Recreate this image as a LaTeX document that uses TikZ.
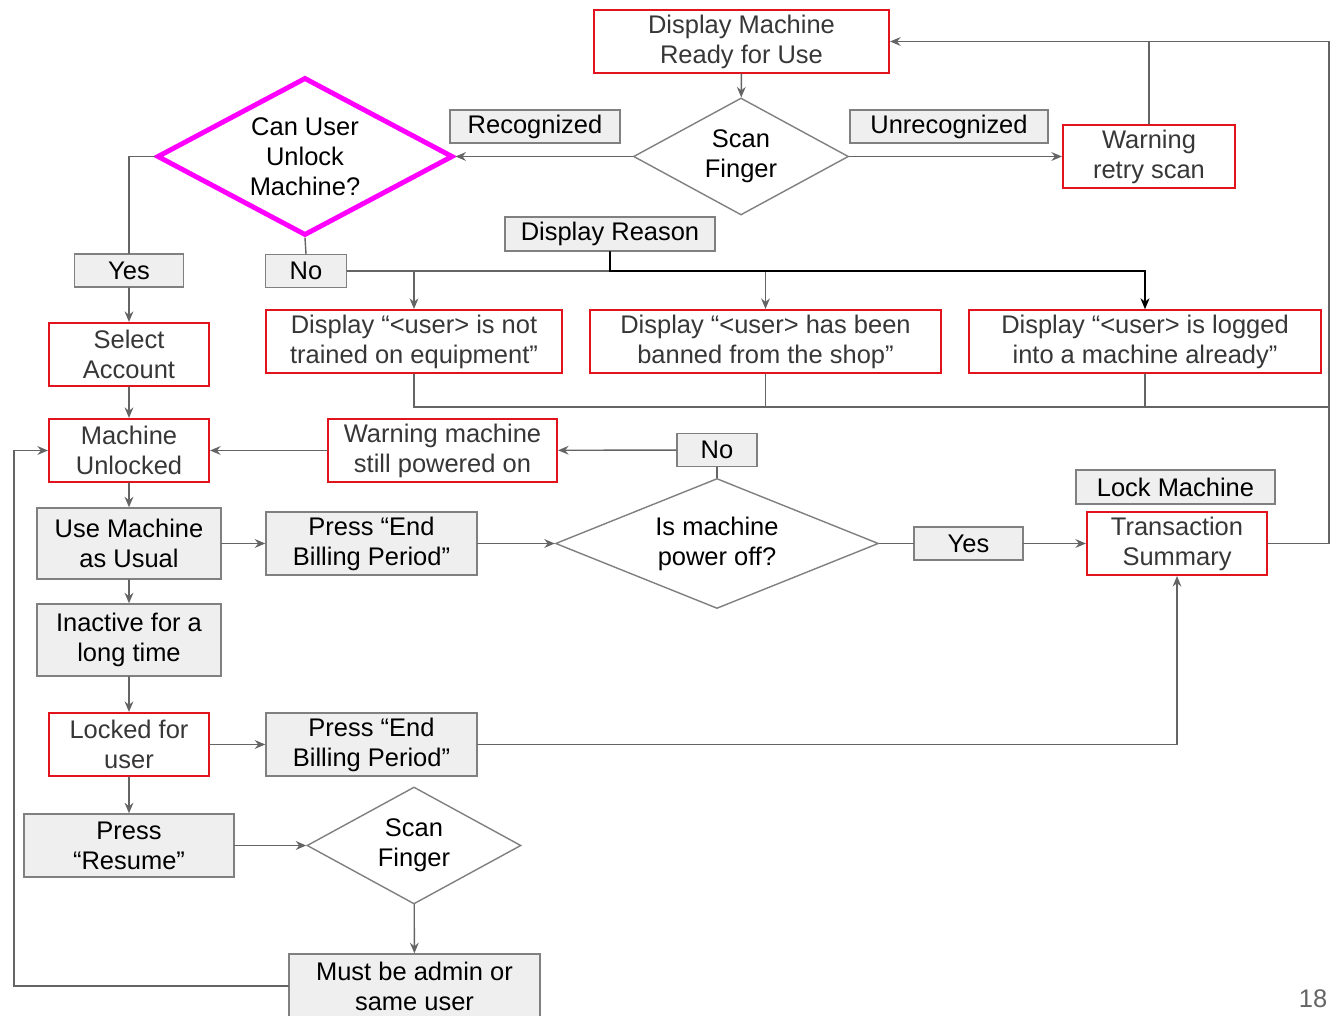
\documentclass[tikz,border=0pt]{standalone}
\usepackage{fontspec}
\setmainfont{Liberation Sans}
\usetikzlibrary{shapes.geometric,arrows.meta}
\begin{document}
\begin{tikzpicture}[x=0.02cm, y=-0.02cm, line cap=round,
  every node/.style={font=\fontsize{14.5}{17}\selectfont, align=center, inner sep=0pt},
  sz/.style 2 args={minimum width=#1*0.02cm, minimum height=#2*0.02cm},
  redbox/.style={draw=boxred, line width=1.2pt, fill=white, text=darktext},
  graybox/.style={draw=edgegray, line width=0.8pt, fill=fillgray, text=black},
  decide/.style={diamond, draw=edgegray, line width=0.8pt, fill=white, text=black},
  link/.style={draw=linegray, line width=0.8pt},
  arr/.style={link, -{Stealth[length=6pt, width=5pt, inset=2pt]}}]
  \definecolor{boxred}{RGB}{225,20,30}
  \definecolor{edgegray}{RGB}{128,128,128}
  \definecolor{fillgray}{RGB}{239,239,239}
  \definecolor{linegray}{RGB}{100,100,100}
  \definecolor{darktext}{RGB}{55,55,55}
  \definecolor{unlockpink}{RGB}{255,0,255}
  \useasboundingbox (0,0) rectangle (1330,1016);
  % top row
  \node[redbox, sz={295}{63}] (ready) at (741.5,41.5) {Display Machine\\Ready for Use};
  \node[decide, sz={215}{117}, aspect=1.84] (scanA) at (741,156.5) {Scan\\Finger};
  \node[graybox, sz={170}{33}] (recog) at (535,126.5) {Recognized};
  \node[graybox, sz={198}{33}] (unrecog) at (949,126.5) {Unrecognized};
  \node[redbox, sz={172}{63}] (retry) at (1149,156.5) {Warning\\retry scan};
  \node[decide, draw=unlockpink, line width=2.8pt, sz={296}{158}, aspect=1.87] (unlock) at (305,156.5) {Can User\\Unlock\\Machine?};
  \node[graybox, sz={109}{33}] (yesA) at (129,270.5) {Yes};
  \node[graybox, sz={81}{33}] (noA) at (306,271) {No};
  \node[graybox, sz={210}{34}] (reason) at (610,234) {Display Reason};
  % reasons
  \node[redbox, sz={160}{63}] (select) at (129,354.5) {Select\\Account};
  \node[redbox, sz={296}{63}] (untrained) at (414,341.5) {Display “<user> is not\\trained on equipment”};
  \node[redbox, sz={351}{63}] (banned) at (765.5,341.5) {Display “<user> has been\\banned from the shop”};
  \node[redbox, sz={352}{63}] (logged) at (1145,341.5) {Display “<user> is logged\\into a machine already”};
  % using the machine
  \node[redbox, sz={160}{63}] (unlocked) at (129,450.5) {Machine\\Unlocked};
  \node[redbox, sz={229}{63}] (stillon) at (442.5,450.5) {Warning machine\\still powered on};
  \node[graybox, sz={80}{33}] (noB) at (717,450) {No};
  \node[graybox, sz={184}{71}] (usual) at (129,543.5) {Use Machine\\as Usual};
  \node[graybox, sz={211}{63}] (endA) at (371.5,543.5) {Press “End\\Billing Period”};
  \node[decide, sz={323}{130}, aspect=2.48] (poweroff) at (717,543.5) {Is machine\\power off?};
  \node[graybox, sz={109}{33}] (yesB) at (968.5,543.5) {Yes};
  \node[graybox, sz={199}{34}] (lock) at (1175.5,487) {Lock Machine};
  \node[redbox, sz={180}{63}] (summary) at (1177,543.5) {Transaction\\Summary};
  % timeout
  \node[graybox, sz={184}{72}] (inactive) at (129,640) {Inactive for a\\long time};
  \node[redbox, sz={160}{63}] (lockeduser) at (129,744.5) {Locked for\\user};
  \node[graybox, sz={211}{63}] (endB) at (371.5,744.5) {Press “End\\Billing Period”};
  \node[graybox, sz={210}{63}] (resume) at (129,845.5) {Press\\“Resume”};
  \node[decide, sz={214}{117}, aspect=1.83] (scanB) at (414,845.5) {Scan\\Finger};
  \node[graybox, sz={251}{64}] (admin) at (414.5,986) {Must be admin or\\same user};
  \node[text=linegray] (page) at (1313,999) {18};
  \coordinate (rtop) at (1329,41.5);
  \coordinate (rbus) at (1329,407);
  \coordinate (lft) at (14,450.5);
  % connectors
  \draw[arr] (ready) -- (scanA);
  \draw[arr] (scanA.west) -- (unlock.east);
  \draw[arr] (scanA.east) -- (retry.west);
  \draw[link] (retry.north) -- (retry.north |- rtop);
  \draw[arr] (summary.east) -| (rtop) -- (ready.east);
  \draw[link] (unlock.west) -| (yesA.north);
  \draw[arr] (yesA) -- (select);
  \draw[link] (unlock.south) -- (noA.north);
  \draw[arr] (noA.east) -| (logged.north);
  \draw[arr] (untrained.north |- noA.east) -- (untrained.north);
  \draw[arr] (banned.north |- noA.east) -- (banned.north);
  \draw[arr, draw=black] (reason.south) |- (logged.north |- noA.east) -- (logged.north);
  \draw[link] (untrained.south) |- (rbus);
  \draw[link] (banned.south) -- (banned.south |- rbus);
  \draw[link] (logged.south) -- (logged.south |- rbus);
  \draw[arr] (select) -- (unlocked);
  \draw[arr] (stillon) -- (unlocked);
  \draw[arr] (noB) -- (stillon);
  \draw[link] (poweroff.north) -- (noB.south);
  \draw[arr] (unlocked) -- (usual);
  \draw[arr] (usual) -- (endA);
  \draw[arr] (endA) -- (poweroff);
  \draw[link] (poweroff) -- (yesB);
  \draw[arr] (yesB) -- (summary);
  \draw[arr] (usual) -- (inactive);
  \draw[arr] (inactive) -- (lockeduser);
  \draw[arr] (lockeduser) -- (endB);
  \draw[arr] (endB.east) -| (summary.south);
  \draw[arr] (lockeduser) -- (resume);
  \draw[arr] (resume) -- (scanB);
  \draw[arr] (scanB) -- (admin);
  \draw[arr] (admin.west) -| (lft) -- (unlocked.west);
\end{tikzpicture}
\end{document}
